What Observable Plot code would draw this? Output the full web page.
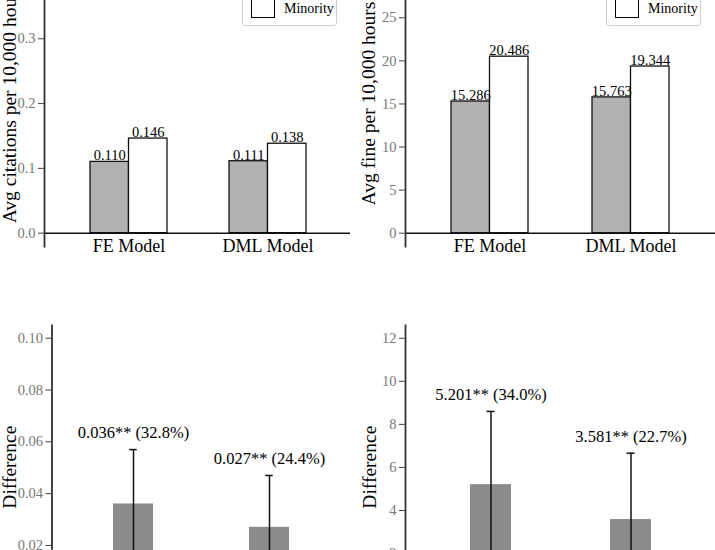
<!DOCTYPE html>
<html>
<head>
<meta charset="utf-8">
<script src="https://cdn.jsdelivr.net/npm/d3@7"></script>
<script src="https://cdn.jsdelivr.net/npm/@observablehq/plot@0.6"></script>
<style>
  body { margin: 0; background: #fff; }
  #fig { position: relative; width: 715px; height: 550px; overflow: hidden; background: #fff; font-family: "Liberation Serif", serif; }
  .panel { position: absolute; }
  .legend { position: absolute; border: 1px solid #cfcfcf; border-radius: 3px; background: #fff; box-sizing: border-box; }
  .entry { position: absolute; left: 0; right: 0; height: 19px; }
  .swatch { position: absolute; left: 8px; top: 0; width: 22px; height: 17px; border: 1.3px solid #000; box-sizing: content-box; }
  .entry span { position: absolute; left: 41px; top: 0; font-size: 14px; line-height: 19px; color: #000; white-space: nowrap; }
</style>
</head>
<body>
<div id="fig"></div>
<script>
// ---------- data ----------
const models = ["FE Model", "DML Model"];
const groups = ["Non-minority", "Minority"];
const groupFill = ["#b1b1b1", "#ffffff"];

// top-left: average citations per 10,000 hours
const citeNonMinority = [0.110, 0.111];
const citeMinority = [0.146, 0.138];
const citeTicks = [0, 0.1, 0.2, 0.3];

// top-right: average fine per 10,000 hours
const fineNonMinority = [15.286, 15.763];
const fineMinority = [20.486, 19.344];
const fineTicks = [0, 5, 10, 15, 20, 25];

// bottom-left: difference in citations
const citeDiff = [0.036, 0.027];
const citeDiffCI = [0.021, 0.020];
const citeDiffLabels = ["0.036** (32.8%)", "0.027** (24.4%)"];
const citeDiffTicks = [0, 0.02, 0.04, 0.06, 0.08, 0.10];

// bottom-right: difference in fines
const fineDiff = [5.201, 3.581];
const fineDiffCI = [3.40, 3.08];
const fineDiffLabels = ["5.201** (34.0%)", "3.581** (22.7%)"];
const fineDiffTicks = [0, 2, 4, 6, 8, 10, 12];

// ---------- drawing ----------
const FONT = "Liberation Serif, serif";
const fig = document.getElementById("fig");
const fmt3 = d3.format(".3f");

function place(node, left, top) {
  const div = document.createElement("div");
  div.className = "panel";
  div.style.left = left + "px";
  div.style.top = top + "px";
  div.appendChild(node);
  fig.appendChild(div);
}

function levelPanel(o) {
  const rows = models.map((m, i) => ({model: m, base: o.base[i], minority: o.minority[i]}));
  const half = o.bw / 2;
  const svg = Plot.plot({
    width: o.width, height: o.height,
    marginLeft: o.marginLeft, marginRight: o.marginRight, marginTop: o.marginTop, marginBottom: o.marginBottom,
    style: {fontFamily: FONT, background: "transparent"},
    x: {domain: models, range: o.xRange, paddingInner: o.pad, paddingOuter: o.pad / 2},
    y: {domain: o.yDomain},
    marks: [
      Plot.barY(rows, {x: "model", y: "base", fill: groupFill[0], stroke: "#111", strokeWidth: 1.3, insetRight: half}),
      Plot.barY(rows, {x: "model", y: "minority", fill: groupFill[1], stroke: "#111", strokeWidth: 1.3, insetLeft: half}),
      Plot.text(rows, {x: "model", y: "base", text: d => fmt3(d.base), dx: -half / 2, dy: -1.5, lineAnchor: "bottom", fontSize: 14.5, fill: "#000"}),
      Plot.text(rows, {x: "model", y: "minority", text: d => fmt3(d.minority), dx: half / 2, dy: -1.5, lineAnchor: "bottom", fontSize: 14.5, fill: "#000"}),
      Plot.ruleY([0], {stroke: "#111", strokeWidth: 1.5}),
      Plot.frame({anchor: "left", stroke: "#333", strokeWidth: 1.8}),
      Plot.axisY({ticks: o.ticks, tickFormat: o.fmt, tickSize: 6, tickPadding: 3, fontSize: 14.5, fill: "#777", stroke: "#444", label: null}),
      Plot.axisY({ticks: [], label: o.ylabel, labelAnchor: "center", labelArrow: "none", labelOffset: o.labelOffset, fontSize: 19.5, fill: "#000"}),
      Plot.axisX({tickSize: 0, tickPadding: -7, fontSize: 18, fill: "#000", label: null})
    ]
  });
  place(svg, o.left, o.top);
}

function diffPanel(o) {
  const rows = models.map((m, i) => ({model: m, diff: o.diff[i], lo: o.diff[i] - o.ci[i], hi: o.diff[i] + o.ci[i], label: o.labels[i]}));
  const capInset = (o.bw - 8) / 2;
  const svg = Plot.plot({
    width: o.width, height: o.height,
    marginLeft: o.marginLeft, marginRight: o.marginRight, marginTop: o.marginTop, marginBottom: o.marginBottom,
    style: {fontFamily: FONT, background: "transparent"},
    x: {domain: models, range: o.xRange, paddingInner: o.pad, paddingOuter: o.pad / 2},
    y: {domain: o.yDomain},
    marks: [
      Plot.barY(rows, {x: "model", y: "diff", fill: "#8b8b8b"}),
      Plot.ruleX(rows, {x: "model", y1: "lo", y2: "hi", stroke: "#111", strokeWidth: 1.5}),
      Plot.tickY(rows, {x: "model", y: "hi", stroke: "#111", strokeWidth: 1.5, inset: capInset}),
      Plot.tickY(rows, {x: "model", y: "lo", stroke: "#111", strokeWidth: 1.5, inset: capInset}),
      Plot.text(rows, {x: "model", y: "hi", text: "label", dy: -16.5, lineAnchor: "middle", fontSize: 16.5, fill: "#000"}),
      Plot.frame({anchor: "left", stroke: "#333", strokeWidth: 1.8}),
      Plot.axisY({ticks: o.ticks, tickFormat: o.fmt, tickSize: 6, tickPadding: 3, fontSize: 14.5, fill: "#777", stroke: "#444", label: null}),
      Plot.axisY({ticks: [], label: "Difference", labelAnchor: "center", labelArrow: "none", labelOffset: o.labelOffset, fontSize: 19.5, fill: "#000"}),
      Plot.axisX({tickSize: 0, tickPadding: 4, fontSize: 18, fill: "#000", label: null})
    ]
  });
  place(svg, o.left, o.top);
}

function legend(left, top, width, height, firstTop) {
  const box = document.createElement("div");
  box.className = "legend";
  box.style.left = left + "px";
  box.style.top = top + "px";
  box.style.width = width + "px";
  box.style.height = height + "px";
  groups.forEach((g, i) => {
    const e = document.createElement("div");
    e.className = "entry";
    e.style.top = (firstTop + i * 26) + "px";
    const sw = document.createElement("div");
    sw.className = "swatch";
    sw.style.background = groupFill[i];
    const t = document.createElement("span");
    t.textContent = g;
    e.appendChild(sw);
    e.appendChild(t);
    box.appendChild(e);
  });
  fig.appendChild(box);
}

// top-left
levelPanel({
  left: 0, top: -60, width: 357, height: 320,
  marginLeft: 44, marginRight: 7, marginTop: 20, marginBottom: 14,
  yDomain: [-0.0206, 0.4208], xRange: [58.4, 336.8], pad: 0.447, bw: 77,
  base: citeNonMinority, minority: citeMinority, ticks: citeTicks, fmt: d3.format(".1f"),
  ylabel: "Avg citations per 10,000 hours", labelOffset: 42
});
// top-right
levelPanel({
  left: 357, top: -60, width: 358, height: 320,
  marginLeft: 48, marginRight: 0, marginTop: 20, marginBottom: 14,
  yDomain: [-1.544, 31.65], xRange: [62, 344], pad: 0.454, bw: 77,
  base: fineNonMinority, minority: fineMinority, ticks: fineTicks, fmt: d3.format("d"),
  ylabel: "Avg fine per 10,000 hours", labelOffset: 44
});
// bottom-left
diffPanel({
  left: 0, top: 300, width: 357, height: 340,
  marginLeft: 51.5, marginRight: 7, marginTop: 25, marginBottom: 31.6,
  yDomain: [-0.0045, 0.1049], xRange: [64.85, 337.45], pad: 0.703, bw: 40.5,
  diff: citeDiff, ci: citeDiffCI, labels: citeDiffLabels, ticks: citeDiffTicks, fmt: d3.format(".2f"),
  labelOffset: 50
});
// bottom-right
diffPanel({
  left: 357, top: 300, width: 358, height: 340,
  marginLeft: 48, marginRight: 0, marginTop: 25, marginBottom: 31.6,
  yDomain: [-0.567, 12.59], xRange: [62.3, 343.9], pad: 0.709, bw: 41,
  diff: fineDiff, ci: fineDiffCI, labels: fineDiffLabels, ticks: fineDiffTicks, fmt: d3.format("d"),
  labelOffset: 43
});

// legends (upper right of the top panels)
legend(242, -28, 95, 54, 0);
legend(606, -28, 95, 54, 0);
</script>
</body>
</html>
